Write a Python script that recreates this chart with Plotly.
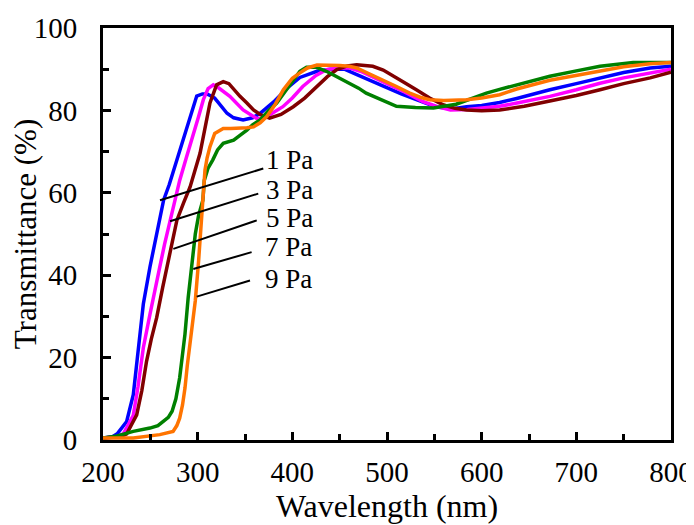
import plotly.graph_objects as go

# ---- data ----
x_1pa = [200, 210, 215, 225, 232, 237, 242.6, 249.6, 258, 264, 270, 278, 285, 292, 299, 305, 310, 318, 325, 331, 338, 348, 358, 366, 380, 395, 408, 426, 440, 455, 470, 496, 515, 531, 552, 570, 584, 600, 619, 637, 655, 672, 700, 725, 750, 778, 800]
y_1pa = [0.5, 0.8, 1.5, 4.5, 11, 21.6, 33, 42, 52, 58.2, 62, 68, 73, 78.5, 83.5, 84, 84, 83, 81, 79.3, 78.2, 77.7, 78.2, 79.3, 82, 85.5, 88, 89.5, 90, 90, 88.5, 85.8, 84, 82.6, 80.8, 80.4, 80.9, 81.2, 81.9, 82.9, 84, 85, 86.5, 87.9, 89.2, 90.3, 90.7]

x_3pa = [200, 215, 221.5, 232, 237, 242.6, 249.6, 255, 260, 265, 271, 281, 288, 295, 301, 306, 311, 316.5, 322, 334, 348, 362, 370, 380, 390, 400, 411, 425, 436, 450, 461, 472, 485, 500, 514, 526, 538, 552, 567, 585, 602, 619, 640, 672, 700, 725, 750, 778, 800]
y_3pa = [0.5, 0.8, 1.5, 6, 13, 22.4, 30.5, 36, 42, 47.5, 53.3, 63, 68.5, 73.6, 78.5, 82.6, 85.3, 86.2, 85.5, 83.4, 80.1, 78.1, 78, 79.5, 80.9, 83, 85.8, 88.5, 89.9, 90.3, 90.3, 89.5, 88.2, 86.5, 85, 83.5, 82.1, 81, 80.1, 80.2, 80.5, 81, 81.9, 83.4, 85, 86.6, 87.9, 89.1, 90]

x_5pa = [200, 218, 225, 230, 235.6, 241, 246, 251, 256.7, 263, 270.8, 278, 285, 292, 302.5, 308, 313, 320, 327, 333, 344.7, 352, 359, 366, 376, 388, 401, 413, 426, 437, 447, 458, 468, 485, 496, 507, 520, 531, 545, 560, 572, 584, 600, 619, 645, 672, 700, 725, 750, 778, 800]
y_5pa = [0.5, 0.8, 1.5, 3.5, 6.1, 12, 19.1, 24.5, 29.7, 37, 45.2, 53.3, 57.5, 61.4, 69.6, 76, 81.8, 86.2, 87, 86.5, 83.4, 81.8, 80.1, 79, 78.1, 79, 80.9, 83, 85.8, 88.2, 89.9, 90.8, 91.1, 90.7, 89.8, 88.2, 86.5, 85, 83, 81.3, 80.5, 80.1, 79.9, 80.1, 81, 82.3, 83.6, 85, 86.5, 87.9, 89.3]

x_7pa = [200, 215, 232, 249.6, 258, 264, 269, 273, 277, 281, 284, 286.6, 290, 293.6, 297.5, 301, 305.5, 307, 311, 316, 321, 327, 333, 338, 345, 352, 358, 366, 375, 383.5, 392, 401, 408, 415, 425, 436, 448, 461, 470, 478, 494, 510, 530, 549, 573, 590, 605, 619, 645, 672, 700, 725, 760, 800]
y_7pa = [0.5, 1, 2.1, 2.9, 3.5, 4.5, 5.5, 7, 10, 15.1, 20, 25.7, 34.6, 42.7, 50, 54.5, 58.2, 63, 66, 68, 70.4, 72, 72.5, 72.8, 74, 75.2, 76.5, 77.7, 80, 81.8, 84.5, 87.4, 89.5, 90.5, 90.5, 89.5, 88, 86.6, 85.4, 84.2, 82.5, 81, 80.7, 80.6, 81.5, 83, 84.2, 85.1, 86.7, 88.3, 89.6, 90.7, 91.6, 91.6]

x_9pa = [200, 232, 260, 270, 274, 278, 281, 284, 286.6, 289, 292, 295, 297.5, 301, 304.5, 307.7, 310, 313, 318, 327, 335, 345, 352, 359, 366, 373, 382, 390.5, 400, 408, 416, 426, 440, 450, 460, 468, 480, 496, 510, 524, 535, 545, 560, 584, 600, 619, 637, 672, 700, 725, 750, 778, 800]
y_9pa = [0.5, 0.5, 1.3, 1.8, 2.1, 3.5, 5.3, 8.5, 12.6, 18, 24, 29, 33.8, 43.5, 54.1, 65.5, 68.5, 71.2, 74.4, 75.6, 75.6, 75.6, 75.8, 76, 77, 78.5, 81.5, 85, 87.8, 89.1, 90.3, 91, 91, 90.9, 90.7, 90.3, 89, 87.4, 85.8, 84.2, 83.2, 82.6, 82.4, 82.6, 83, 83.8, 85.2, 87.3, 88.5, 89.7, 90.6, 91.3, 91.6]

series_names = ["1 Pa", "3 Pa", "5 Pa", "7 Pa", "9 Pa"]
series_x = [x_1pa, x_3pa, x_5pa, x_7pa, x_9pa]
series_y = [y_1pa, y_3pa, y_5pa, y_7pa, y_9pa]
series_colors = ["#0000FF", "#FF00FF", "#800000", "#008000", "#FF7400"]

# label callouts: line start (on curve) and end (near text), text position
callout_x0 = [260.2, 270.8, 274.3, 295.4, 299.0]
callout_y0 = [58.2, 53.1, 46.4, 41.5, 34.8]
callout_x1 = [369.3, 364.0, 362.4, 357.0, 355.3]
callout_y1 = [65.9, 59.8, 53.3, 45.6, 38.7]
label_x = [370, 370, 370, 369, 369]
label_y = [67.9, 60.6, 54.0, 46.8, 39.1]

x_ticks = [200, 300, 400, 500, 600, 700, 800]
y_ticks = [0, 20, 40, 60, 80, 100]

FONT = "Liberation Serif, Times New Roman, serif"

fig = go.Figure()
for xs, ys, c, n in zip(series_x, series_y, series_colors, series_names):
    fig.add_trace(go.Scatter(x=xs, y=ys, mode="lines", name=n,
                             line=dict(color=c, width=3.5), showlegend=False))

for i in range(len(series_names)):
    fig.add_shape(type="line", xref="x", yref="y",
                  x0=callout_x0[i], y0=callout_y0[i], x1=callout_x1[i], y1=callout_y1[i],
                  line=dict(color="black", width=2))
    fig.add_annotation(x=label_x[i], y=label_y[i], xref="x", yref="y",
                       text=series_names[i], showarrow=False, xanchor="left", yanchor="middle",
                       font=dict(family=FONT, size=27, color="black"))

axis_common = dict(showgrid=False, zeroline=False, showline=True, linecolor="black", linewidth=3,
                   mirror=True, ticks="inside", ticklen=8, tickwidth=3, tickcolor="black",
                   automargin=False, ticklabeloverflow="allow",
                   tickfont=dict(family=FONT, size=29, color="black"))

fig.update_xaxes(range=[200, 800], tickvals=x_ticks, ticklabelstandoff=4,
                 minor=dict(dtick=50, tick0=200, ticks="inside", ticklen=6, tickwidth=3, tickcolor="black"),
                 title=dict(text="Wavelength (nm)", font=dict(family=FONT, size=32, color="black"), standoff=4),
                 **axis_common)
fig.update_yaxes(range=[0, 100], tickvals=y_ticks, ticklabelstandoff=17,
                 minor=dict(dtick=10, tick0=0, ticks="inside", ticklen=6, tickwidth=3, tickcolor="black"),
                 title=dict(text="Transmittance (%)", font=dict(family=FONT, size=31, color="black"), standoff=0),
                 **axis_common)

# the page adds an 8 px body margin, so the figure is 8 px smaller and offset
fig.update_layout(width=686, height=517, margin=dict(l=95, r=23, t=20, b=85),
                  paper_bgcolor="white", plot_bgcolor="white")

fig.write_html("out.html")
